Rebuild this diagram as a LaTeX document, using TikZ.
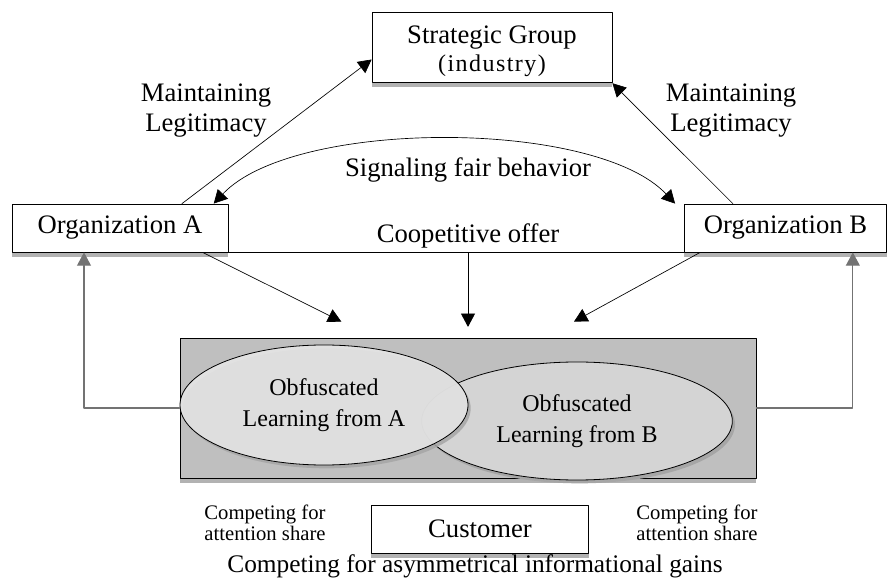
\documentclass[tikz,border=0pt]{standalone}
\usepackage{fontspec}
\setmainfont{Liberation Serif}
\usetikzlibrary{arrows.meta,shapes.geometric,shadows}

\begin{document}
\begin{tikzpicture}[x=0.75pt, y=-0.75pt, line cap=round, line join=round,
    >={Triangle[length=10pt,width=10.5pt]},
    box/.style={draw, fill=white, inner sep=0pt, line width=0.6pt,
      general shadow={fill=black!30, shadow yshift=-3.5pt}},
    big/.style={font=\fontsize{20}{22.5}\selectfont, align=center},
    small/.style={font=\fontsize{15.5}{15.5}\selectfont, align=center},
    blob/.style={ellipse, draw, inner sep=0pt, line width=0.6pt, align=center,
      font=\fontsize{18}{23}\selectfont,
      general shadow={fill=black!35, shadow xshift=2pt, shadow yshift=-2.5pt}},
    link/.style={line width=0.5pt},
    side/.style={line width=0.8pt, black!55}]
  \useasboundingbox (0,0) rectangle (888,580);

  % Strategic group on top
  \node [box, big, minimum width=180pt, minimum height=53pt] (strat) at (492,47.5)
    {\rule{0pt}{19pt}Strategic Group\\[-1pt]{\fontsize{18}{18}\selectfont\addfontfeatures{LetterSpace=6}(industry)}};

  % the two organizations
  \node [box, big, minimum width=162pt, minimum height=36pt] (orgA) at (120,228) {Organization A};
  \node [box, big, minimum width=152pt, minimum height=36pt] (orgB) at (785.5,228) {Organization B};

  % shared field with the two learning areas
  \node [draw, fill=black!25, line width=0.6pt, minimum width=432pt, minimum height=105pt,
    general shadow={fill=black!30, shadow yshift=-3.5pt}] (field) at (468,408) {};
  \node [blob, fill=black!17, minimum width=233pt, minimum height=88.5pt] (learnB) at (577,421)
    {Obfuscated\\Learning from B};
  \node [blob, fill=black!9, fill opacity=0.85, text opacity=1, minimum width=216pt,
    minimum height=90pt] (learnA) at (324,405) {Obfuscated\\Learning from A};

  % labels
  \node [big] (maintA) at (206,111) {Maintaining\\Legitimacy};
  \node [big] (maintB) at (731,111) {Maintaining\\Legitimacy};
  \node [big] (signal) at (468,170) {Signaling fair behavior};
  \node [big] (offer) at (468,236) {Coopetitive offer};

  % legitimacy arrows
  \draw [link,->] ([xshift=46.5pt]orgA.north) -- ([yshift=-9pt]strat.west);
  \draw [link,->] ([xshift=-39.5pt]orgB.north) -- (strat.south east);
  % signaling
  \draw [link,<->] ([xshift=-11pt]orgA.north east) .. controls +(80,-85) and +(-80,-85) .. ([xshift=-6.5pt]orgB.north west);

  % coopetitive offer
  \draw [link] (orgA.south east) -- (orgB.south west);
  \draw [link,->] (offer.south |- orgA.south) -- ([yshift=8pt]field.north);
  \draw [link,->] ([xshift=62pt]orgA.south) -- ([xshift=-95pt,yshift=12pt]field.north);
  \draw [link,->] ([xshift=-64pt]orgB.south) -- ([xshift=79.5pt,yshift=12pt]field.north);

  % feedback from the field
  \draw [side,->] (field.west) -| ([xshift=-27pt]orgA.south);
  \draw [side,->] (field.east) -| ([xshift=50.5pt]orgB.south);

  % customer
  \node [small] (compA) at (265,523) {Competing for\\attention share};
  \node [small] (compB) at (697,523) {Competing for\\attention share};
  \node [box, big, minimum width=163pt, minimum height=36pt] (cust) at (480,529) {Customer};
  \node [big, font=\fontsize{19}{22}\selectfont] (gains) at (475,566) {Competing for asymmetrical informational gains};
\end{tikzpicture}
\end{document}
